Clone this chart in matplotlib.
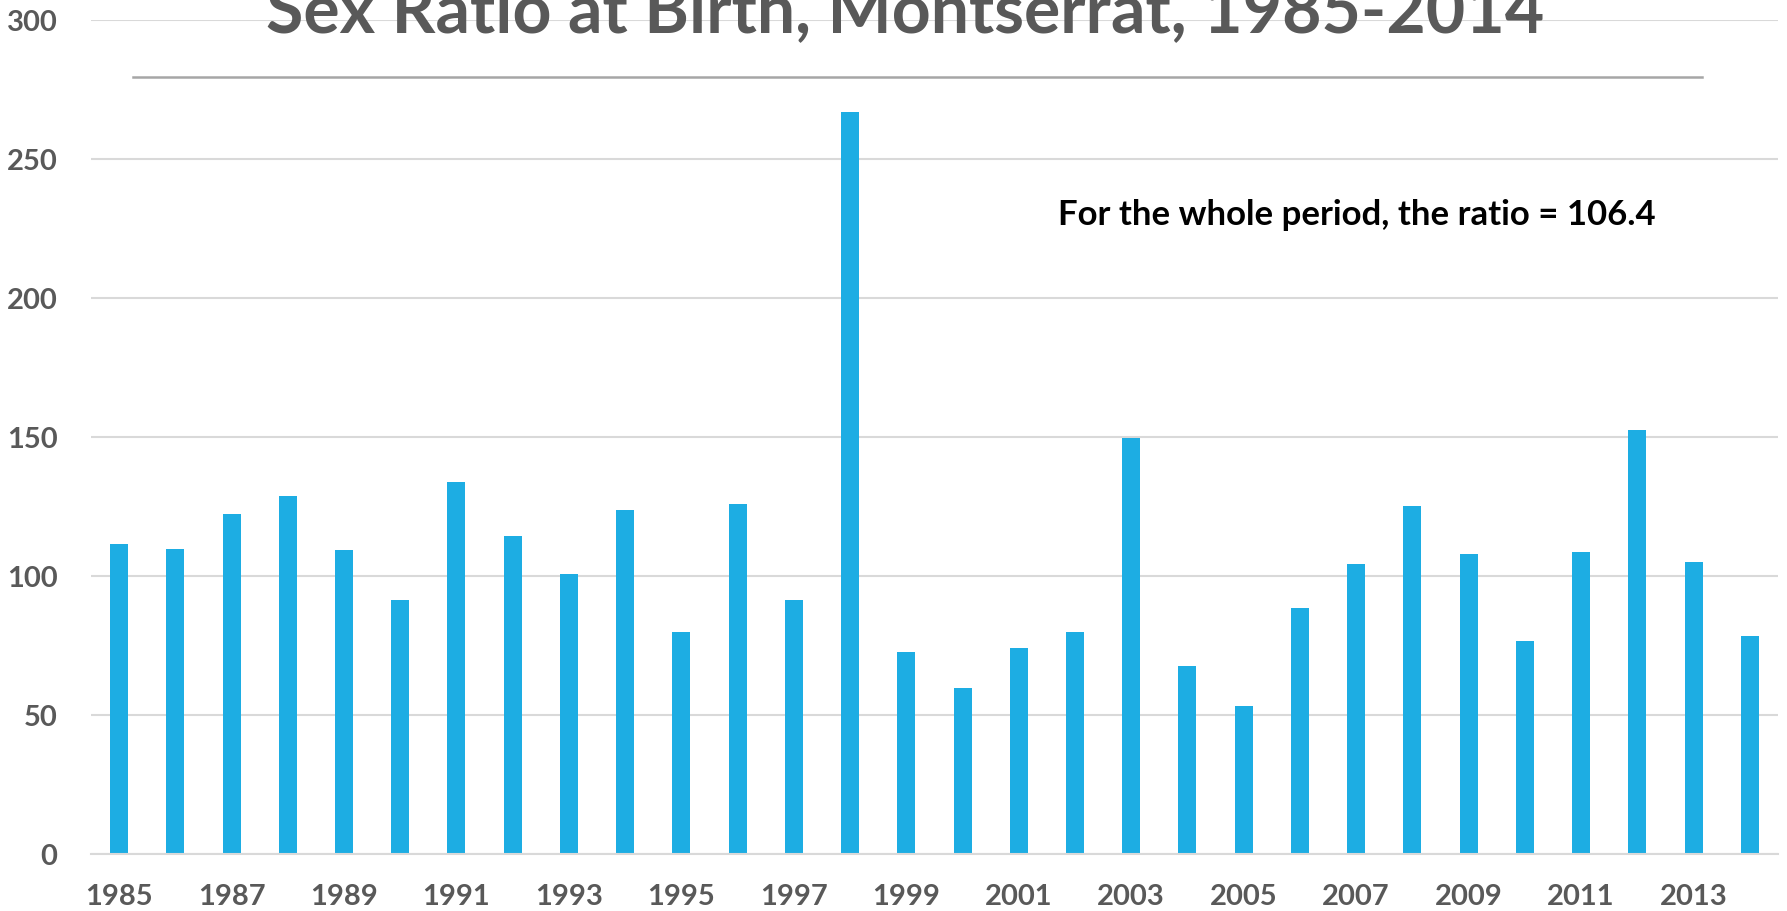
import matplotlib.pyplot as plt
import matplotlib.lines as mlines
import numpy as np

years = list(range(1985, 2015))
ratio = [111.5, 109.8, 122.1, 128.7, 109.4, 91.4, 133.6, 114.3, 100.8, 123.8,
         79.9, 125.8, 91.4, 266.8, 72.5, 59.8, 74.2, 79.9, 149.6, 67.6,
         53.3, 88.5, 104.1, 125.0, 107.8, 76.6, 108.6, 152.5, 104.9, 78.3]
title = 'Sex Ratio at Birth, Montserrat, 1985-2014'
note = 'For the whole period, the ratio = 106.4'

plt.rcParams['font.family'] = ['Lato', 'DejaVu Sans']
bar_color = '#1DADE3'
grey_text = '#595959'
grid_color = '#D9D9D9'

fig = plt.figure(figsize=(17.87, 9.12), dpi=100)
ax = fig.add_axes([0.0509, 0.0625, 0.944, 0.915])

x = np.arange(len(years))
ax.bar(x, ratio, width=0.32, color=bar_color, zorder=2)

ax.set_xlim(-0.5, len(years) - 0.5)
ax.set_ylim(0, 300)
ax.set_yticks(np.arange(0, 301, 50))
ax.set_xticks(x[::2])
ax.set_xticklabels([str(y) for y in years[::2]])
ax.tick_params(axis='both', length=0, labelsize=21, labelcolor=grey_text)
ax.tick_params(axis='y', pad=24)
ax.tick_params(axis='x', pad=21)
for lab in ax.get_xticklabels() + ax.get_yticklabels():
    lab.set_fontweight('bold')

ax.grid(axis='y', color=grid_color, linewidth=1.5, zorder=0)
ax.set_axisbelow(True)
for s in ['top', 'right', 'left']:
    ax.spines[s].set_visible(False)
ax.spines['bottom'].set_color(grid_color)
ax.spines['bottom'].set_linewidth(1.5)

ax.text(16.7, 230, note, fontsize=25, fontweight='bold', color='black',
        va='center', ha='left')

# title sits over the top gridline, with a rule under it
fig.text(0.5067, 0.965, title, fontsize=49, fontweight='bold', color=grey_text,
         ha='center', va='baseline', zorder=5)
fig.add_artist(mlines.Line2D([0.0744, 0.9524], [0.915, 0.915],
                             color='#A6A6A6', linewidth=1.8))

fig.savefig('out.png', dpi=100)
